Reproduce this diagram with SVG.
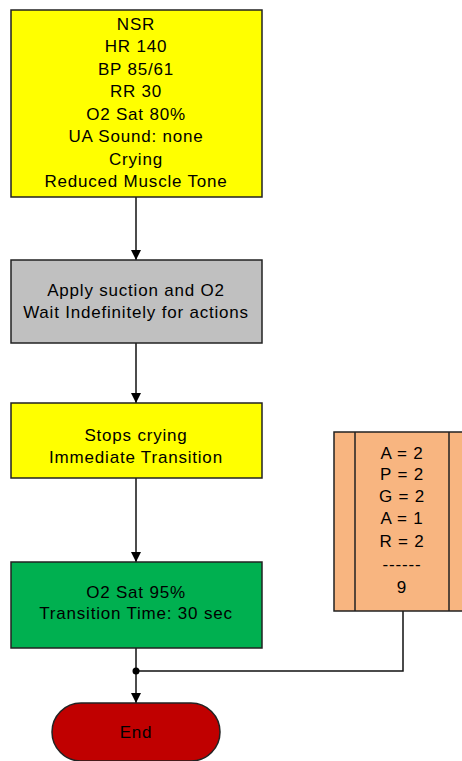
<svg xmlns="http://www.w3.org/2000/svg" width="462" height="761" viewBox="0 0 462 761">
<style>
.box{stroke:#222;stroke-width:1.5}
.t{font-family:"Liberation Sans",Arial,sans-serif;font-size:17px;letter-spacing:0.8px;fill:#000;text-anchor:middle;dominant-baseline:central}
.c{stroke:#111;stroke-width:1.5;fill:none}
</style>
<defs>
<marker id="ah" viewBox="0 0 10 10" refX="10" refY="5" markerWidth="10" markerHeight="10" markerUnits="userSpaceOnUse" orient="auto">
<path d="M0,0 L10,5 L0,10 z" fill="#000"/>
</marker>
</defs>
<rect width="462" height="761" fill="#fff"/>
<g id="connectors">
<line class="c" x1="136" y1="197" x2="136" y2="260" marker-end="url(#ah)"/>
<line class="c" x1="136" y1="343" x2="136" y2="403" marker-end="url(#ah)"/>
<line class="c" x1="136" y1="478" x2="136" y2="562" marker-end="url(#ah)"/>
<line class="c" x1="136" y1="648" x2="136" y2="703" marker-end="url(#ah)"/>
<polyline class="c" points="403,611 403,671 136,671"/>
<circle cx="136" cy="671" r="3.5" fill="#000"/>
</g>
<g id="n1">
<rect class="box" x="11" y="10" width="251" height="187" fill="#ffff00"/>
<text class="t" x="136" y="24">NSR</text>
<text class="t" x="136" y="46.5">HR 140</text>
<text class="t" x="136" y="69">BP 85/61</text>
<text class="t" x="136" y="91.5">RR 30</text>
<text class="t" x="136" y="114">O2 Sat 80%</text>
<text class="t" x="136" y="136.5">UA Sound: none</text>
<text class="t" x="136" y="159">Crying</text>
<text class="t" x="136" y="181.5">Reduced Muscle Tone</text>
</g>
<g id="n2">
<rect class="box" x="11" y="260" width="251" height="83" fill="#c0c0c0"/>
<text class="t" x="136" y="290">Apply suction and O2</text>
<text class="t" x="136" y="312">Wait Indefinitely for actions</text>
</g>
<g id="n3">
<rect class="box" x="11" y="403" width="251" height="75" fill="#ffff00"/>
<text class="t" x="136" y="435">Stops crying</text>
<text class="t" x="136" y="457">Immediate Transition</text>
</g>
<g id="n4">
<rect class="box" x="11" y="562" width="251" height="86" fill="#00b050"/>
<text class="t" x="136" y="592">O2 Sat 95%</text>
<text class="t" x="136" y="613">Transition Time: 30 sec</text>
</g>
<g id="n5">
<rect class="box" x="334" y="432" width="140" height="179" fill="#f8b580"/>
<line class="box" x1="355" y1="432" x2="355" y2="611"/>
<line class="box" x1="449" y1="432" x2="449" y2="611"/>
<text class="t" x="402" y="453">A = 2</text>
<text class="t" x="402" y="474.5">P = 2</text>
<text class="t" x="402" y="496">G = 2</text>
<text class="t" x="402" y="518">A = 1</text>
<text class="t" x="402" y="541">R = 2</text>
<text class="t" x="402" y="564">------</text>
<text class="t" x="402" y="587">9</text>
</g>
<g id="n6">
<rect class="box" x="52" y="703" width="168" height="58" rx="29" ry="29" fill="#c00000"/>
<text class="t" x="136" y="732">End</text>
</g>
</svg>
